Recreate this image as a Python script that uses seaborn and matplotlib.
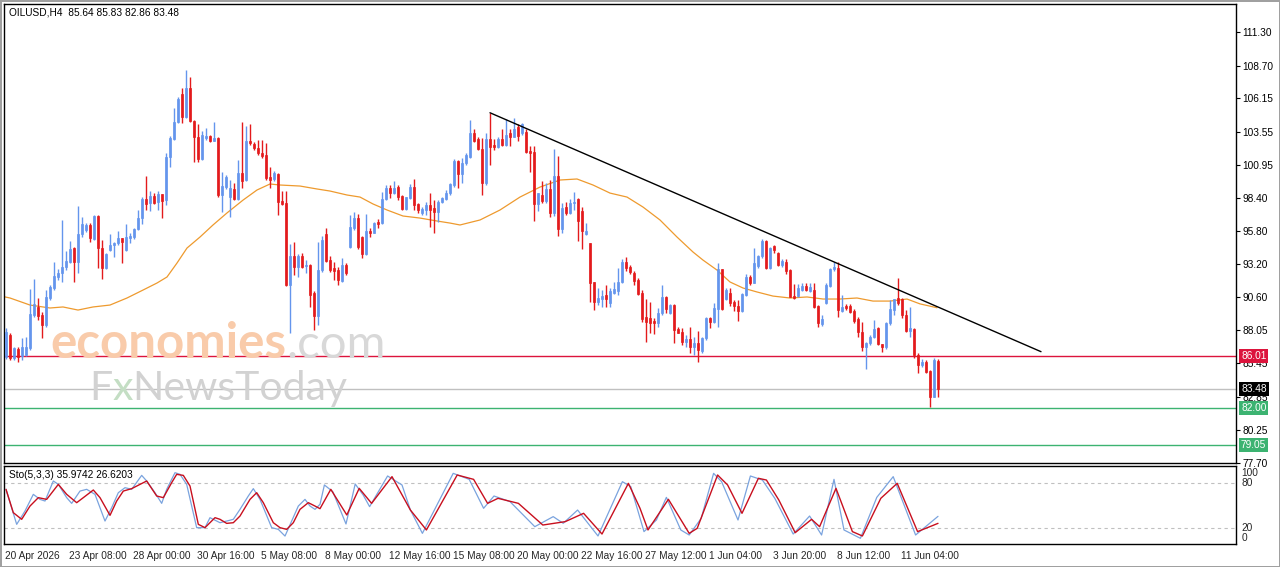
import numpy as np
import pandas as pd
import matplotlib
matplotlib.use("Agg")
import matplotlib.pyplot as plt
import matplotlib.transforms as mtransforms
import seaborn as sns

# ---- OILUSD H4 candles ----
opens = [85.98, 87.67, 85.85, 86.58, 86.03, 86.11, 86.63, 89.23, 89.83, 89.23,
         88.45, 90.53, 91.32, 92.23, 92.49, 92.96, 93.37, 94.44, 93.40, 95.56,
         95.87, 96.29, 95.14, 96.96, 94.44, 92.88, 94.31, 94.70, 94.83, 95.22,
         94.31, 95.22, 95.30, 95.92, 96.78, 98.26, 98.00, 98.52, 98.08, 98.68,
         98.21, 101.59, 103.00, 104.27, 106.49, 104.72, 106.93, 104.40, 103.10, 101.41,
         103.08, 103.21, 102.84, 103.08, 98.60, 99.20, 98.47, 99.04, 98.26, 100.34,
         99.76, 102.84, 102.58, 102.24, 101.90, 101.72, 100.00, 99.82, 100.23, 98.15,
         97.94, 91.57, 93.83, 93.00, 93.83, 93.05, 93.13, 90.92, 89.15, 92.74,
         95.55, 93.52, 92.87, 92.74, 91.91, 93.13, 94.51, 95.99, 96.77, 95.34,
         93.99, 95.81, 95.65, 96.51, 96.38, 98.26, 99.11, 98.78, 99.19, 98.52,
         97.48, 98.33, 99.19, 97.89, 97.22, 97.42, 97.81, 97.55, 97.29, 98.07,
         98.26, 98.72, 99.37, 101.27, 100.23, 101.07, 101.59, 103.41, 102.94, 102.16,
         99.50, 102.94, 102.50, 102.31, 102.94, 102.50, 103.41, 103.15, 103.93, 103.41,
         103.54, 102.05, 101.98, 97.89, 98.60, 98.15, 99.04, 97.16, 100.08, 95.91,
         97.63, 97.22, 97.94, 98.26, 97.37, 95.55, 94.87, 91.83, 90.27, 90.45,
         90.79, 90.19, 90.97, 91.13, 91.83, 93.39, 92.95, 92.53, 91.96, 90.97,
         89.04, 88.97, 88.78, 88.58, 89.36, 90.66, 89.36, 90.01, 88.11, 87.93,
         87.15, 87.33, 86.75, 87.02, 86.44, 87.41, 88.97, 88.71, 89.67, 92.80,
         90.46, 90.93, 90.27, 89.93, 89.57, 90.79, 92.22, 91.75, 93.06, 93.84,
         95.04, 92.88, 94.62, 94.10, 93.14, 93.40, 92.74, 90.72, 90.72, 91.18,
         91.50, 91.13, 91.18, 89.93, 88.53, 90.20, 91.50, 92.80, 92.88, 89.57,
         89.93, 89.93, 89.57, 88.90, 87.93, 86.76, 87.02, 87.49, 88.19, 86.96,
         86.70, 88.58, 89.62, 90.53, 90.45, 89.23, 88.00, 88.11, 86.10, 85.32,
         85.58, 84.88, 82.85, 85.64]
highs = [88.20, 87.80, 86.70, 86.70, 87.41, 87.54, 91.24, 92.02, 90.54, 89.50,
         91.19, 91.58, 93.40, 92.80, 96.65, 94.26, 95.04, 94.57, 97.74, 96.91,
         96.39, 96.39, 97.04, 97.04, 95.09, 94.05, 95.56, 94.96, 95.82, 95.22,
         96.31, 95.66, 96.00, 97.43, 98.42, 100.08, 98.91, 98.78, 98.94, 98.70,
         101.90, 103.21, 105.37, 106.23, 106.93, 108.36, 107.79, 104.45, 104.12, 103.60,
         103.81, 103.25, 104.30, 103.16, 100.37, 100.16, 99.77, 99.56, 101.33, 104.32,
         103.98, 104.14, 102.70, 102.90, 102.89, 102.63, 100.81, 100.49, 100.30, 98.93,
         98.93, 94.77, 94.95, 93.99, 94.04, 93.50, 93.20, 91.13, 94.95, 95.39,
         95.99, 93.80, 93.39, 93.00, 93.65, 93.26, 97.03, 97.29, 97.11, 95.40,
         97.11, 95.99, 96.51, 96.69, 98.85, 99.37, 99.37, 99.71, 99.37, 98.60,
         98.46, 99.45, 99.84, 97.95, 97.68, 98.07, 98.72, 98.20, 98.20, 98.46,
         98.98, 99.55, 101.38, 101.30, 101.46, 101.85, 104.45, 103.72, 103.10, 103.02,
         103.46, 105.02, 102.94, 103.10, 103.72, 104.50, 103.72, 104.58, 104.14, 104.24,
         103.72, 102.42, 102.42, 98.78, 99.71, 99.55, 99.76, 102.16, 101.64, 97.94,
         98.07, 98.26, 98.85, 98.33, 97.63, 96.43, 94.87, 91.83, 91.31, 91.18,
         91.57, 91.31, 91.83, 92.87, 93.57, 93.78, 93.13, 92.69, 92.09, 91.18,
         90.45, 90.27, 88.97, 89.75, 91.57, 90.71, 90.09, 90.09, 88.32, 88.19,
         87.67, 88.27, 87.48, 88.00, 87.54, 89.10, 89.10, 90.14, 93.32, 92.85,
         91.31, 91.31, 90.40, 90.40, 90.97, 92.43, 92.35, 94.44, 93.92, 95.14,
         95.09, 94.52, 94.70, 94.18, 93.58, 93.58, 92.80, 91.65, 91.65, 91.76,
         91.76, 91.70, 91.76, 90.01, 89.23, 91.70, 92.87, 93.40, 93.40, 90.79,
         90.09, 90.09, 89.67, 89.05, 88.71, 87.10, 87.67, 88.84, 88.27, 87.00,
         88.71, 90.40, 90.50, 92.09, 90.53, 89.60, 89.88, 88.20, 86.23, 85.77,
         85.70, 84.95, 85.84, 85.83]
lows = [85.80, 85.70, 85.70, 85.59, 85.72, 86.00, 86.50, 89.10, 88.84, 87.41,
        88.32, 90.40, 91.19, 91.97, 91.84, 92.75, 93.27, 91.84, 92.49, 95.35,
        95.74, 94.96, 95.09, 92.88, 92.02, 92.80, 94.26, 93.79, 94.70, 93.32,
        94.26, 94.88, 95.20, 95.87, 96.34, 97.43, 97.38, 97.90, 97.43, 96.78,
        97.82, 100.81, 102.90, 104.20, 104.25, 104.60, 104.33, 101.20, 101.15, 101.33,
        102.90, 102.76, 102.80, 98.47, 97.30, 99.10, 96.91, 98.21, 98.20, 99.11,
        99.70, 102.50, 102.10, 101.70, 101.50, 99.80, 99.11, 99.70, 97.03, 97.80,
        91.50, 87.79, 92.35, 92.22, 92.90, 92.48, 89.88, 88.06, 88.45, 92.60,
        93.40, 92.61, 91.96, 91.57, 91.83, 92.35, 94.45, 95.90, 94.35, 93.65,
        93.90, 95.34, 95.60, 95.99, 96.30, 98.20, 98.33, 98.70, 98.20, 97.42,
        97.42, 98.30, 97.42, 97.16, 97.03, 97.03, 96.07, 95.65, 96.51, 97.94,
        98.20, 98.60, 99.24, 99.11, 99.56, 100.94, 101.50, 102.76, 102.11, 98.59,
        99.40, 100.94, 102.10, 102.24, 102.42, 102.40, 102.42, 103.10, 102.84, 103.30,
        101.90, 100.42, 96.59, 97.37, 98.00, 98.00, 96.90, 97.00, 95.39, 95.60,
        97.03, 97.10, 97.42, 95.03, 94.35, 95.47, 90.27, 89.62, 90.00, 89.82,
        89.82, 89.82, 90.90, 90.79, 91.70, 92.70, 92.40, 91.57, 90.79, 88.71,
        87.15, 87.80, 87.74, 88.27, 89.23, 89.36, 89.30, 87.07, 87.80, 86.89,
        86.70, 86.29, 86.11, 85.58, 86.30, 87.30, 88.19, 88.60, 88.27, 89.60,
        90.40, 89.93, 89.57, 88.79, 89.50, 90.70, 91.60, 91.70, 92.88, 93.70,
        92.80, 92.80, 94.10, 93.06, 93.00, 92.43, 90.61, 90.46, 90.60, 91.10,
        91.13, 91.05, 89.75, 88.27, 88.40, 90.10, 91.40, 92.70, 89.05, 89.50,
        89.60, 89.36, 88.60, 87.54, 86.45, 84.99, 86.90, 87.40, 86.89, 86.36,
        86.60, 88.45, 89.20, 90.00, 89.00, 87.90, 87.53, 85.90, 84.72, 85.20,
        84.72, 82.07, 82.80, 82.86]
closes = [87.93, 85.85, 86.63, 85.98, 86.71, 86.76, 89.31, 90.09, 89.16, 88.45,
          90.61, 91.39, 92.28, 92.49, 92.96, 93.45, 94.36, 93.40, 95.56, 96.34,
          96.24, 95.22, 96.96, 94.44, 92.88, 94.00, 94.70, 94.88, 95.22, 94.96,
          95.30, 95.43, 95.92, 96.78, 98.26, 97.87, 98.52, 98.00, 98.68, 98.16,
          101.59, 103.03, 104.27, 106.07, 104.72, 106.93, 104.40, 103.10, 101.41, 103.26,
          103.21, 102.84, 103.08, 98.60, 99.30, 99.98, 99.12, 98.26, 100.29, 99.71,
          102.84, 102.63, 102.24, 101.85, 101.64, 99.89, 99.76, 100.34, 98.07, 97.89,
          91.57, 93.83, 93.00, 93.83, 93.00, 93.13, 90.79, 89.15, 92.74, 95.08,
          93.47, 92.74, 92.69, 91.96, 93.13, 92.48, 96.07, 96.77, 94.56, 93.99,
          95.81, 95.65, 96.43, 96.33, 98.26, 99.11, 98.78, 99.11, 98.46, 97.48,
          98.41, 99.19, 97.81, 97.42, 97.48, 97.81, 97.42, 97.29, 98.07, 98.33,
          98.72, 99.45, 101.27, 100.23, 101.12, 101.72, 103.41, 102.84, 102.16, 99.50,
          102.94, 102.31, 102.31, 102.94, 102.50, 103.28, 103.10, 103.72, 103.20, 104.14,
          101.98, 101.90, 97.89, 98.72, 98.15, 99.04, 97.16, 100.08, 95.91, 97.55,
          97.22, 98.00, 98.07, 96.59, 95.81, 95.81, 91.75, 90.27, 90.53, 90.71,
          90.45, 91.13, 91.23, 91.83, 93.39, 92.87, 92.61, 91.91, 90.87, 88.89,
          88.71, 88.63, 88.63, 89.41, 90.66, 89.67, 90.01, 88.06, 87.85, 87.15,
          87.33, 86.70, 87.02, 86.50, 87.41, 88.97, 88.71, 89.75, 92.80, 89.67,
          91.19, 90.20, 89.93, 89.57, 90.87, 92.22, 91.75, 93.27, 93.84, 95.04,
          92.88, 94.44, 94.31, 93.14, 93.47, 92.69, 90.66, 90.53, 91.31, 91.50,
          91.18, 91.44, 89.88, 88.58, 88.90, 91.57, 92.80, 93.00, 89.62, 89.88,
          89.75, 89.50, 88.79, 87.93, 86.76, 87.07, 87.54, 88.11, 86.97, 86.70,
          88.63, 89.67, 90.45, 90.19, 89.23, 88.00, 88.19, 86.10, 85.32, 85.58,
          84.80, 82.85, 85.71, 83.48]

# moving average (orange), sampled along the curve
ma_bar = [-0.5, 1, 6, 11, 14.25, 18, 21.75, 26, 30.25, 34.25, 37.75, 40.25, 42.75, 45.25, 48.5,
          51.75, 55.25, 59.25, 62.75, 66, 68.5, 73.5, 77.75, 81, 85.25, 88.5, 91.75, 95.25, 99.25,
          103.5, 107.75, 111, 113.5, 118.5, 123.5, 128.5, 133.5, 138.5, 142.75, 146.75, 151,
          155.25, 159.25, 163.5, 167.75, 171.75, 174.25, 177.75, 181, 184.25, 187.75, 191.75,
          196, 200.25, 204.25, 208.5, 212.75, 216.75, 221, 225.25, 228.5, 232.75]
ma_val = [90.66, 90.56, 90.01, 89.78, 89.86, 89.62, 89.86, 90.01, 90.56, 91.18, 91.73, 92.20,
          93.29, 94.46, 95.32, 96.26, 97.20, 98.20, 98.99, 99.46, 99.38, 99.30, 99.07, 98.91,
          98.60, 98.44, 97.90, 97.43, 96.96, 96.80, 96.57, 96.41, 96.26, 96.65, 97.43, 98.44,
          99.22, 99.77, 99.85, 99.38, 98.75, 98.44, 97.66, 96.65, 95.32, 94.15, 93.52, 92.74,
          91.81, 91.34, 91.03, 90.71, 90.56, 90.64, 90.48, 90.48, 90.56, 90.32, 90.32, 90.48,
          90.10, 89.80]

# trend line (two anchor points: bar index, price)
trend_bar = [121, 258.75]
trend_val = [105.02, 86.37]

# horizontal levels
level_resist = 86.01
level_last = 83.48
level_supports = [82.00, 79.05]

price_ticks = [111.30, 108.70, 106.15, 103.55, 100.95, 98.40, 95.80, 93.20,
               90.60, 88.05, 85.45, 82.85, 80.25, 77.70]

# stochastic (5,3,3): %K (blue) and %D (red)
k_bar = [0, 2.67, 4.75, 6.83, 8.5, 9.75, 11.83, 13.08, 15.17, 16.42, 18.5, 20.17, 22.25,
         24.75, 26.42, 28.08, 29.75, 31.42, 33.92, 35.17, 37.25, 38.92, 40.17, 42.25, 43.5,
         45.17, 47.67, 49.75, 51.0, 53.5, 55.17, 56.83, 58.5, 60.58, 61.83, 63.5, 66.42,
         68.08, 69.75, 71.42, 73.08, 74.75, 76.0, 77.25, 78.5,
         79.6, 81.7, 85.0, 87.3, 89.3, 90.9, 95.4, 99.0, 101.1, 104.1, 111.8, 115.8, 119.4,
         122.0, 126.0, 132.2, 136.8, 139.3, 142.9, 148.0, 154.1, 156.2, 159.5, 162.6, 165.1,
         168.7, 170.8, 173.8, 176.9, 178.9, 183.0, 186.1, 189.1, 192.2, 196.8, 200.9, 203.9,
         207.0, 209.5, 213.6, 217.7, 221.8, 227.4, 233]
k_val = [72.0, 25.3, 43.1, 65.3, 58.6, 56.4, 83.1, 78.6, 60.9, 53.3, 69.7, 72.0, 65.3,
         29.7, 47.5, 67.5, 74.2, 72.0, 90.6, 83.1, 67.5, 53.3, 72.0, 94.2, 92.0,
         78.6, 20.9, 20.9, 34.2, 27.5, 29.7, 32.0, 45.3, 63.1, 72.9, 58.6, 20.9,
         18.6, 9.7, 29.7, 49.7, 58.6, 49.7, 45.3, 52.0,
         77.8, 68.9, 25.8, 79.1, 64.4, 48.9, 89.8, 77.8, 44.4, 13.3, 93.3, 85.3, 46.7,
         63.1, 55.6, 22.2, 35.6, 26.7, 44.4, 9.8, 82.2, 75.6, 15.6, 31.1, 61.3,
         17.8, 11.1, 33.3, 93.3, 82.2, 31.1, 89.8, 84.4, 60.0, 12.4, 36.4, 11.1,
         85.3, 17.8, 6.7, 61.3, 88.9, 11.1, 35.97]
d_bar = [0, 1.83, 3.92, 6.0, 8.08, 10.17, 13.08, 15.17, 17.67, 19.33, 21.83, 23.5, 26.0,
         27.67, 29.33, 31.42, 33.5, 35.17, 37.67, 39.33, 41.42, 42.67, 44.33, 46.0, 48.08,
         49.75, 52.25, 53.5, 55.17, 56.83, 58.5, 61.0, 62.67, 64.33, 66.83, 68.5, 70.17,
         71.83, 73.5, 75.58, 77.25, 78.5,
         81.2, 85.2, 88.3, 91.4, 96.5, 101.1, 105.1, 112.8, 116.9, 120.4, 123.0, 128.1,
         134.2, 139.8, 144.4, 149.0, 155.6, 158.5, 160.5, 165.6, 170.8, 172.8, 177.9, 180.4,
         184.0, 188.1, 190.1, 193.2, 197.3, 201.4, 203.4, 207.5, 211.6, 214.1, 218.7, 222.8,
         227.9, 233]
d_val = [72.0, 40.9, 32.0, 49.7, 60.9, 58.6, 78.6, 65.3, 54.2, 60.9, 71.1, 60.9, 37.3,
         56.4, 69.7, 72.9, 78.6, 83.1, 63.1, 60.9, 80.9, 92.0, 90.6, 76.4, 25.3,
         20.9, 34.2, 32.0, 26.6, 27.5, 36.4, 58.6, 67.5, 54.2, 27.5, 20.9, 18.6,
         27.5, 45.3, 54.2, 49.7, 46.2,
         72.0, 37.8, 73.3, 53.3, 88.9, 44.4, 17.8, 91.1, 85.3, 53.3, 60.0, 53.3,
         24.4, 28.9, 40.0, 12.4, 80.0, 46.7, 17.8, 58.7, 13.3, 20.0, 91.1, 77.8,
         40.0, 86.7, 84.4, 57.8, 14.2, 32.0, 22.2, 73.3, 15.6, 9.8, 60.0, 80.0,
         15.6, 26.62]

time_labels = ["20 Apr 2026", "23 Apr 08:00", "28 Apr 00:00", "30 Apr 16:00", "5 May 08:00",
               "8 May 00:00", "12 May 16:00", "15 May 08:00", "20 May 00:00", "22 May 16:00",
               "27 May 12:00", "1 Jun 04:00", "3 Jun 20:00", "8 Jun 12:00", "11 Jun 04:00"]
label_bars = [0, 16, 32, 48, 64, 80, 96, 112, 128, 144, 160, 176, 192, 208, 224]

bull = "#6495ED"
bear = "#E31A1C"

sns.set_style("white")
plt.rcParams["font.family"] = ["Liberation Sans", "DejaVu Sans"]

df = pd.DataFrame({"open": opens, "high": highs, "low": lows, "close": closes})
df["bar"] = np.arange(len(df))
df["color"] = np.where(df["close"] >= df["open"], bull, bear)

W, H = 1280, 567
fig = plt.figure(figsize=(12.8, 5.67), dpi=100, facecolor="white",
                 edgecolor="#a0a0a0", linewidth=2)
ax = fig.add_axes([4 / W, 1 - 463 / H, 1232 / W, 459 / H])
ax2 = fig.add_axes([4 / W, 1 - 544 / H, 1232 / W, 78 / H])

# candles
ax.vlines(df["bar"], df["low"], df["high"], colors=df["color"], linewidth=1, zorder=3)
ax.bar(df["bar"], (df["close"] - df["open"]).abs(),
       bottom=df[["open", "close"]].min(axis=1), width=0.7,
       color=df["color"], edgecolor=df["color"], linewidth=0.5, zorder=3)

sns.lineplot(x=ma_bar, y=ma_val, ax=ax, color="#EE9A2E", linewidth=0.9, zorder=2)
ax.plot(trend_bar, trend_val, color="black", linewidth=1, zorder=4)

ax.axhline(level_resist, color="#DC143C", linewidth=1, zorder=1)
ax.axhline(level_last, color="#C0C0C0", linewidth=1, zorder=1)
for lv in level_supports:
    ax.axhline(lv, color="#3CB371", linewidth=1, zorder=1)

fs = 7.3
ax.set_xlim(-0.5, 307.5)
ax.set_ylim(77.68, 113.51)
ax.set_xticks([])
ax.yaxis.tick_right()
ax.set_yticks(price_ticks)
ax.set_yticklabels([f"{t:.2f}" for t in price_ticks])
ax.tick_params(axis="y", direction="out", length=3, width=0.8, pad=1.5,
               labelsize=fs, colors="black")

# price boxes on the right scale
for lv, bg in [(level_resist, "#DC143C"), (level_last, "black"),
               (level_supports[0], "#3CB371"), (level_supports[1], "#3CB371")]:
    ax.annotate(f"{lv:.2f}", xy=(1, lv), xycoords=("axes fraction", "data"),
                xytext=(3.6, 0), textcoords="offset points", ha="left", va="center",
                fontsize=fs, color="white", annotation_clip=False, zorder=10,
                bbox=dict(boxstyle="square,pad=0.2", facecolor=bg, edgecolor="none"))

ax.annotate("OILUSD,H4  85.64 85.83 82.86 83.48", xy=(0, 1), xycoords="axes fraction",
            xytext=(3.6, -5.8), textcoords="offset points", ha="left", va="center",
            fontsize=fs, color="black")

# watermark
wm1 = ax.text(0.0373, 0.229, "economies", transform=ax.transAxes, fontsize=35.5,
              family=["Lato", "DejaVu Sans"], fontweight="bold", color="#F9CBAA",
              ha="left", va="baseline", zorder=6)
ax.annotate(".com", xy=(1, 0), xycoords=wm1, ha="left", va="bottom", fontsize=34,
            family=["Lato", "DejaVu Sans"], color="#D8D8D8", zorder=6)
wm2 = ax.text(0.069, 0.137, "F", transform=ax.transAxes, fontsize=29.5,
              family=["Lato", "DejaVu Sans"], color="#D2D2D2", ha="left", va="baseline",
              zorder=6)
wm3 = ax.annotate("x", xy=(1, 0), xycoords=wm2, ha="left", va="bottom", fontsize=29.5,
                  family=["Lato", "DejaVu Sans"], color="#C4DEC4", zorder=6)
ax.annotate("NewsToday", xy=(1, 0), xycoords=wm3, ha="left", va="bottom", fontsize=29.5,
            family=["Lato", "DejaVu Sans"], color="#D2D2D2", zorder=6)

# stochastic panel
for lv in [80, 20]:
    ax2.axhline(lv, color="#C0C0C0", linewidth=0.8, linestyle=(0, (3, 3)), zorder=1)
sns.lineplot(x=k_bar, y=k_val, ax=ax2, color="#7AA3DE", linewidth=0.9, zorder=3)
sns.lineplot(x=d_bar, y=d_val, ax=ax2, color="#C80F1E", linewidth=1.0, zorder=4)
ax2.set_xlim(-0.5, 307.5)
ax2.set_ylim(-0.9, 103.1)
ax2.yaxis.tick_right()
ax2.set_yticks([0, 20, 80, 100])
ax2.set_yticklabels(["0", "20", "80", "100"])
for lab, va in zip(ax2.get_yticklabels(), ["bottom", "center", "center", "top"]):
    lab.set_verticalalignment(va)
ax2.tick_params(axis="y", direction="out", length=0, pad=4, labelsize=fs)
ax2.set_xticks(label_bars)
ax2.set_xticklabels(time_labels, ha="left")
ax2.tick_params(axis="x", direction="out", length=3, width=0.8, pad=2, labelsize=fs)
offset = mtransforms.ScaledTranslation(-1 / 100, 0, fig.dpi_scale_trans)
for lab in ax2.get_xticklabels():
    lab.set_transform(lab.get_transform() + offset)
ax2.annotate("Sto(5,3,3) 35.9742 26.6203", xy=(0, 1), xycoords="axes fraction",
             xytext=(3.6, -6.5), textcoords="offset points", ha="left", va="center",
             fontsize=fs, color="black")
ax2.set_xlabel("")
ax2.set_ylabel("")
ax.set_xlabel("")
ax.set_ylabel("")

for a in (ax, ax2):
    for s in a.spines.values():
        s.set_visible(True)
        s.set_color("black")
        s.set_linewidth(1)

fig.savefig("out.png", dpi=100, facecolor="white", edgecolor=fig.get_edgecolor())
